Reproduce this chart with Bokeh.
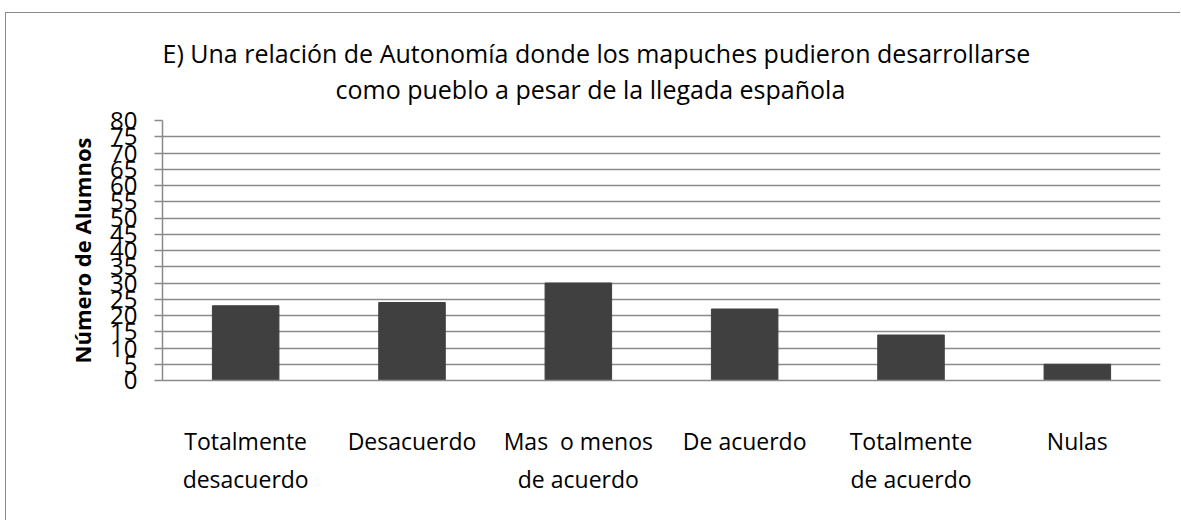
from bokeh.plotting import figure
from bokeh.models import FactorRange, Range1d, FixedTicker, Title
from bokeh.embed import file_html
from bokeh.resources import INLINE

categories = ["Totalmente\ndesacuerdo", "Desacuerdo", "Mas \u00a0o menos\nde acuerdo",
              "De acuerdo", "Totalmente\nde acuerdo", "Nulas"]
values = [23, 24, 30, 22, 14, 5]
y_ticks = list(range(0, 81, 5))
title_line1 = "E) Una relación de Autonomía donde los mapuches pudieron desarrollarse"
title_line2 = "como pueblo a pesar de la llegada española"
y_label = "Número de Alumnos"

FONT = "Open Sans"
GRAY = "#8a8a8a"

p = figure(x_range=FactorRange(*categories, range_padding=0, factor_padding=0),
           y_range=Range1d(0, 80),
           frame_width=998, frame_height=260,
           min_border_left=156, min_border_top=107, min_border_right=20, min_border_bottom=140,
           output_backend="svg", toolbar_location=None,
           margin=(12, 0, 0, 5),
           styles={"border-left": "1px solid #8a8a8a", "border-top": "1px solid #8a8a8a"})

p.vbar(x=categories, top=values, width=0.4, fill_color="#404040", line_color="#404040")

p.outline_line_color = None
p.xgrid.grid_line_color = None
p.ygrid.ticker = FixedTicker(ticks=y_ticks)
p.ygrid.grid_line_color = GRAY
p.ygrid.grid_line_width = 1.5

p.yaxis.ticker = FixedTicker(ticks=y_ticks)
p.yaxis.axis_line_color = GRAY
p.yaxis.axis_line_width = 1.5
p.yaxis.major_tick_line_color = GRAY
p.yaxis.major_tick_line_width = 1.5
p.yaxis.major_tick_out = 8
p.yaxis.major_tick_in = 0
p.yaxis.minor_tick_line_color = None
p.yaxis.major_label_standoff = 17
p.yaxis.major_label_text_font = FONT
p.yaxis.major_label_text_font_size = "24px"
p.yaxis.major_label_text_color = "black"
p.yaxis.axis_label = y_label
p.yaxis.axis_label_text_font = FONT
p.yaxis.axis_label_text_font_style = "bold"
p.yaxis.axis_label_text_font_size = "22px"
p.yaxis.axis_label_text_color = "black"
p.yaxis.axis_label_standoff = 10

p.xaxis.axis_line_color = GRAY
p.xaxis.axis_line_width = 1.5
p.xaxis.major_tick_line_color = None
p.xaxis.major_tick_out = 0
p.xaxis.major_tick_in = 0
p.xaxis.major_label_standoff = 44
p.xaxis.major_label_text_font = FONT
p.xaxis.major_label_text_font_size = "23px"
p.xaxis.major_label_text_color = "black"
p.xaxis.major_label_text_line_height = 1.2

t2 = Title(text=title_line2, align="left", offset=173, text_font=FONT,
           text_font_size="25px", text_font_style="normal", text_color="black", standoff=30)
t1 = Title(text=title_line1, align="left", offset=0, text_font=FONT,
           text_font_size="25px", text_font_style="normal", text_color="black", standoff=-30)
p.add_layout(t2, "above")
p.add_layout(t1, "above")

open("out.html", "w").write(file_html(p, INLINE))
